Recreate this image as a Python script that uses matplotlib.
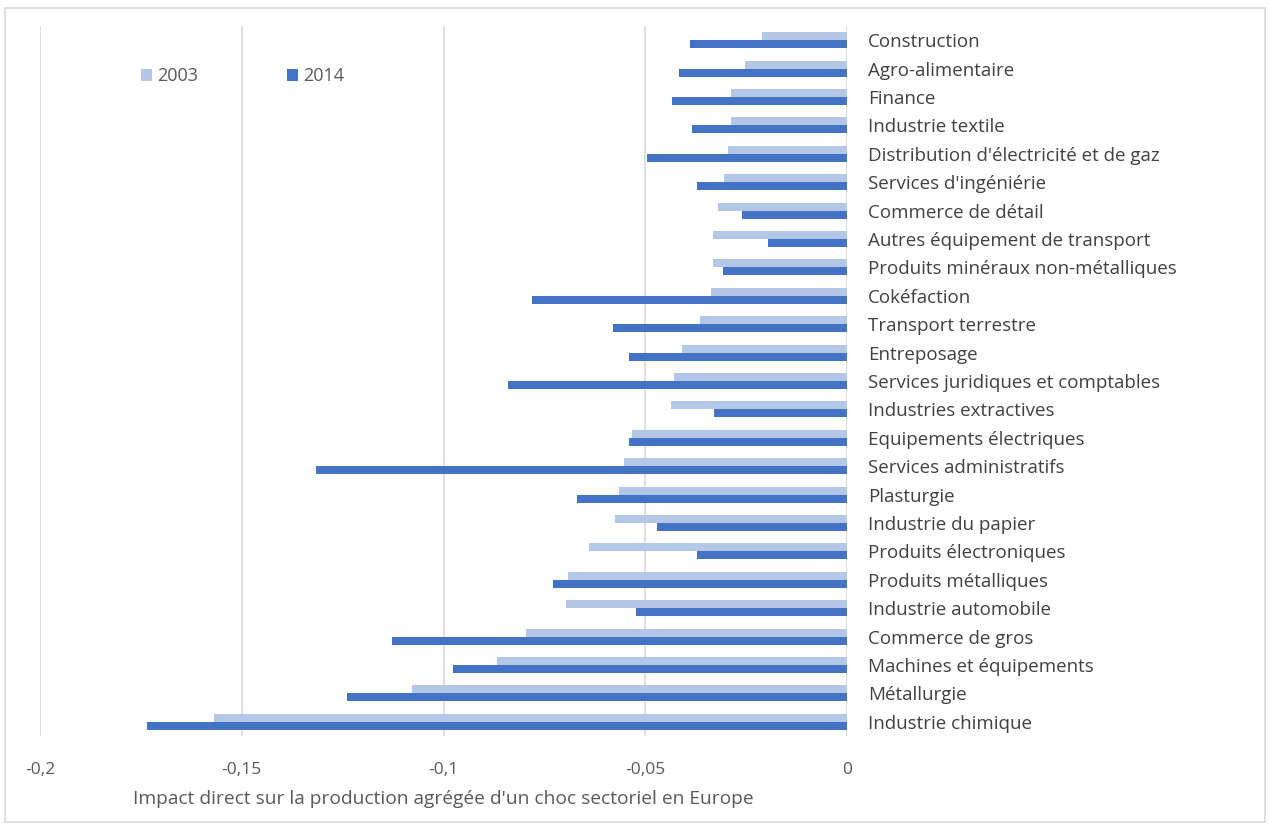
import matplotlib.pyplot as plt
import numpy as np
from matplotlib.patches import Rectangle

secteurs = ["Construction", "Agro-alimentaire", "Finance", "Industrie textile",
            "Distribution d'électricité et de gaz", "Services d'ingéniérie",
            "Commerce de détail", "Autres équipement de transport",
            "Produits minéraux non-métalliques", "Cokéfaction", "Transport terrestre",
            "Entreposage", "Services juridiques et comptables", "Industries extractives",
            "Equipements électriques", "Services administratifs", "Plasturgie",
            "Industrie du papier", "Produits électroniques", "Produits métalliques",
            "Industrie automobile", "Commerce de gros", "Machines et équipements",
            "Métallurgie", "Industrie chimique"]

impact_2003 = [-0.021, -0.0253, -0.0287, -0.0287, -0.0295, -0.0304, -0.0321, -0.0333,
               -0.0333, -0.0338, -0.0365, -0.0408, -0.0429, -0.0437, -0.0532, -0.0553,
               -0.0566, -0.0575, -0.064, -0.0691, -0.0696, -0.0795, -0.0868, -0.1077,
               -0.157]
impact_2014 = [-0.039, -0.0416, -0.0433, -0.0385, -0.0497, -0.0373, -0.0261, -0.0197,
               -0.0308, -0.0781, -0.0579, -0.054, -0.0841, -0.0331, -0.054, -0.1315,
               -0.0669, -0.047, -0.0371, -0.073, -0.0523, -0.1128, -0.0976, -0.124,
               -0.1734]

xticks = [-0.2, -0.15, -0.1, -0.05, 0]
xtick_labels = ["-0,2", "-0,15", "-0,1", "-0,05", "0"]

plt.rcParams['font.family'] = ['Open Sans', 'DejaVu Sans']

fig = plt.figure(figsize=(12.7, 8.27), dpi=100)
ax = fig.add_axes([0.0315, 0.11, 0.6355, 0.8585])

y = np.arange(len(secteurs))
h = 0.28
ax.barh(y - h/2, impact_2003, height=h, color='#B4C7E7', label='2003', zorder=2)
ax.barh(y + h/2, impact_2014, height=h, color='#4472C4', label='2014', zorder=2)

ax.set_xlim(-0.2, 0)
ax.set_ylim(len(secteurs) - 0.5, -0.5)
ax.set_xticks(xticks)
ax.set_xticklabels(xtick_labels, fontsize=12.5, color='#595959')
ax.set_yticks(y)
ax.set_yticklabels(secteurs, fontsize=13.5, color='#404040')
ax.yaxis.tick_right()
ax.tick_params(axis='y', length=0, pad=15)
ax.tick_params(axis='x', length=0, pad=19)
ax.grid(axis='x', color='#D9D9D9', linewidth=1.2, zorder=0)
for s in ax.spines.values():
    s.set_visible(False)

ax.set_xlabel("Impact direct sur la production agrégée d'un choc sectoriel en Europe",
              fontsize=13.8, color='#595959', labelpad=8)

ax.legend(loc='upper left', bbox_to_anchor=(0.105, 0.965), ncol=2, frameon=False,
          fontsize=13, handlelength=0.6, handleheight=0.6, handletextpad=0.3,
          columnspacing=4.9, labelcolor='#595959')

fig.patches.append(Rectangle((0.004, 0.006), 0.992, 0.984, transform=fig.transFigure,
                             fill=False, edgecolor='#D9D9D9', linewidth=1.2))

fig.savefig('out.png', dpi=100)
